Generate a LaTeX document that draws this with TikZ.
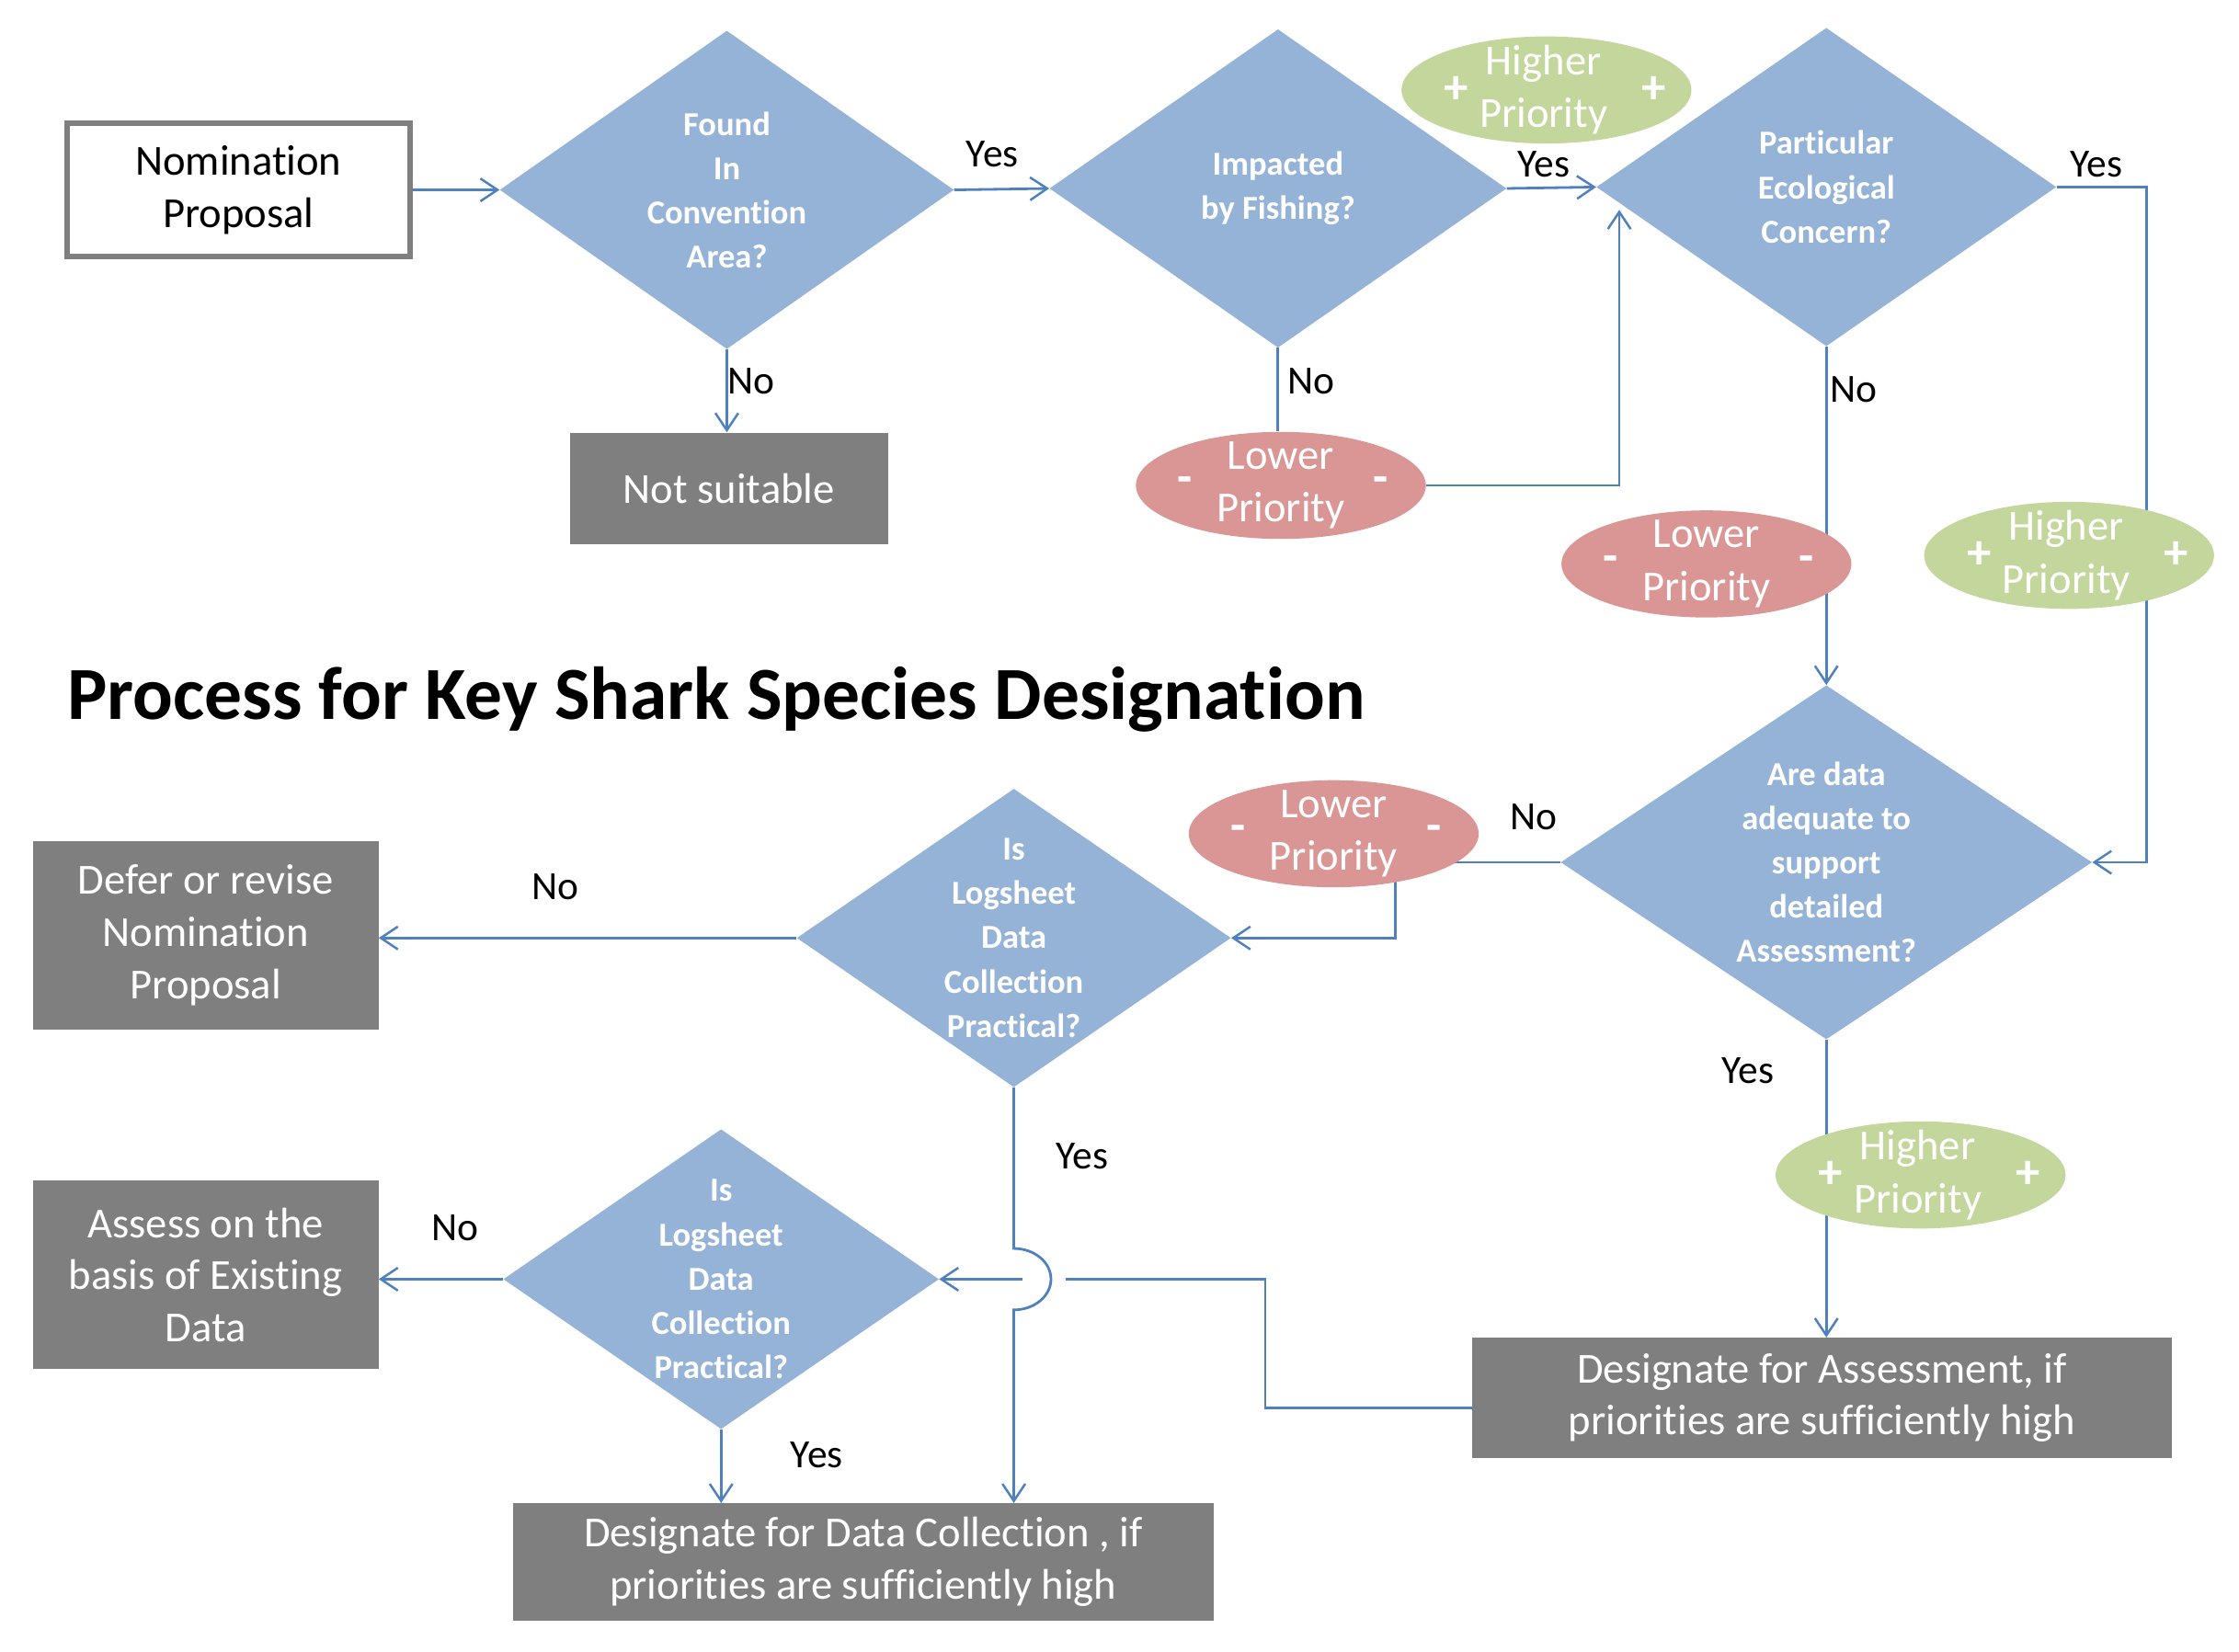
\documentclass[tikz,border=0pt]{standalone}
\usepackage{fontspec}
\setmainfont{Carlito}[Ligatures=NoCommon]
\usetikzlibrary{shapes.geometric,arrows.meta,calc}
\definecolor{dblue}{RGB}{149,179,215}
\definecolor{lblue}{RGB}{79,129,189}
\definecolor{boxgray}{RGB}{127,127,127}
\definecolor{hgreen}{RGB}{195,214,155}
\definecolor{lred}{RGB}{217,150,148}
\pgfdeclarelayer{bg}
\pgfsetlayers{bg,main}
\begin{document}
\begin{tikzpicture}[x=1pt,y=-1pt,
  conn/.style={draw=lblue, line width=1.8pt},
  arr/.style={conn, -{Straight Barb[length=12pt,width=16pt,line width=1.6pt]}},
  dia/.style={diamond, fill=dblue, draw=none, inner sep=0pt},
  dtxt/.style={text=white, align=center, font=\bfseries\fontsize{23.5}{31}\selectfont},
  gbox/.style={rectangle, fill=boxgray, text=white, align=center, inner sep=0pt, font=\fontsize{30}{36.5}\selectfont},
  pri/.style={ellipse, draw=none, inner sep=0pt, minimum width=203pt, minimum height=75pt},
  ptxt/.style={text=white, align=center, font=\fontsize{30}{37}\selectfont},
  sign/.style={text=white, font=\bfseries\fontsize{34}{34}\selectfont},
  hpri/.style={pri, fill=hgreen,
    label={[ptxt,xshift=-2pt]center:{Higher\\Priority}},
    label={[sign,xshift=-63pt]center:+},
    label={[sign,xshift=75pt]center:+}},
  lpri/.style={pri, fill=lred,
    label={[ptxt]center:{Lower\\Priority}},
    label={[sign,xshift=-67pt]center:-},
    label={[sign,xshift=70pt]center:-}},
  yn/.style={font=\fontsize{28}{30}\selectfont, text=black, inner sep=0pt},
]
\useasboundingbox (0,0) rectangle (1568,1157);

% title
\node[font=\bfseries\fontsize{52.5}{60}\selectfont, anchor=west, inner sep=0pt] (title) at (47,490) {Process for Key Shark Species Designation};

% start box
\node[rectangle, draw=boxgray, line width=4pt, fill=white, minimum width=240pt, minimum height=93pt,
      align=center, font=\fontsize{30}{37}\selectfont] (nom) at (167,133) {Nomination\\Proposal};

% decisions
\node[dia, minimum width=318pt, minimum height=223pt,
      label={[dtxt]center:{Found\\In\\Convention\\Area?}}] (d1) at (509,133) {};
\node[dia, minimum width=320pt, minimum height=223pt,
      label={[dtxt]center:{Impacted\\by Fishing?}}] (d2) at (895,132) {};
\node[dia, minimum width=322pt, minimum height=223pt,
      label={[dtxt]center:{Particular\\Ecological\\Concern?}}] (d3) at (1279,131) {};
\node[dia, minimum width=372pt, minimum height=248pt,
      label={[dtxt]center:{Are data\\adequate to\\support\\detailed\\Assessment?}}] (d4) at (1279,604) {};
\node[dia, minimum width=304pt, minimum height=209pt,
      label={[dtxt]center:{Is\\Logsheet\\Data\\Collection\\Practical?}}] (d5) at (710,657) {};
\node[dia, minimum width=305pt, minimum height=210pt,
      label={[dtxt]center:{Is\\Logsheet\\Data\\Collection\\Practical?}}] (d6) at (505,896) {};

% outcome boxes
\node[gbox, minimum width=223pt, minimum height=78pt] (ns) at (510.5,342) {Not suitable};
\node[gbox, minimum width=242pt, minimum height=132pt] (defer) at (144,655) {Defer or revise\\Nomination\\Proposal};
\node[gbox, minimum width=242pt, minimum height=132pt] (assess) at (144,893) {Assess on the\\basis of Existing\\Data};
\node[gbox, minimum width=491pt, minimum height=82pt] (ddc) at (604.5,1094) {Designate for Data Collection , if\\priorities are sufficiently high};
\node[gbox, minimum width=490pt, minimum height=84pt] (dfa) at (1276,979) {Designate for Assessment, if\\priorities are sufficiently high};

% priority ellipses
\node[hpri] (hp1) at (1083,63) {};
\node[lpri] (lp1) at (897,340) {};
\node[lpri] (lp2) at (1195,395) {};
\node[hpri] (hp2) at (1449,389) {};
\node[lpri] (lp3) at (934,584) {};
\node[hpri] (hp3) at (1345,823) {};

% yes / no labels
\node[yn] (y1) at (695,108) {Yes};
\node[yn] (n1) at (526,267) {No};
\node[yn] (y2) at (1081,115) {Yes};
\node[yn] (n2) at (918,267) {No};
\node[yn] (y3) at (1468,115) {Yes};
\node[yn] (n3) at (1298,273) {No};
\node[yn] (n4) at (1074,572) {No};
\node[yn] (n5) at (389,621) {No};
\node[yn] (y5) at (758,810) {Yes};
\node[yn] (y4) at (1224,750) {Yes};
\node[yn] (n6) at (319,860) {No};
\node[yn] (y6) at (572,1019) {Yes};

\coordinate (up1) at (1134,147);
\coordinate (hopT) at ($(d5.south |- d6.east)+(0,-21.5)$);
\coordinate (hopR) at ($(d5.south |- d6.east)+(36,0)$);
\coordinate (hopL) at ($(d5.south |- d6.east)+(6,0)$);

\begin{pgfonlayer}{bg}
\fill[white] (0,0) rectangle (1568,1157);
\draw[arr] (nom.east) -- (d1.west);
\draw[arr] (d1.east) -- (d2.west);
\draw[arr] (d1.south) -- (d1.south |- ns.north);
\draw[arr] (d2.east) -- (d3.west);
\draw[conn] (d2.south) -- (d2.south |- lp1.north);
\draw[arr] (lp1.east) -| (up1);
\draw[arr] (d3.east) -| ($(d4.east)+(38,0)$) -- (d4.east);
\draw[arr] (d3.south) -- (d4.north);
\draw[conn] (d4.west) -- (lp3.center |- d4.west);
\draw[arr] ($(lp3.center)+(43,0)$) |- (d5.east);
\draw[arr] (d5.west) -- (d5.west -| defer.east);
\draw[arr] (d5.south) -- (hopT) arc[start angle=-90, end angle=90, x radius=26, y radius=21.5] -- (d5.south |- ddc.north);
\draw[arr] ($(dfa.west)+(0,7)$) -| ($(hopR)+(140,0)$) -- (hopR) (hopL) -- (d6.east);
\draw[arr] (d6.west) -- (d6.west -| assess.east);
\draw[arr] (d6.south) -- (d6.south |- ddc.north);
\draw[arr] (d4.south) -- (d4.south |- dfa.north);
\end{pgfonlayer}
\end{tikzpicture}
\end{document}
